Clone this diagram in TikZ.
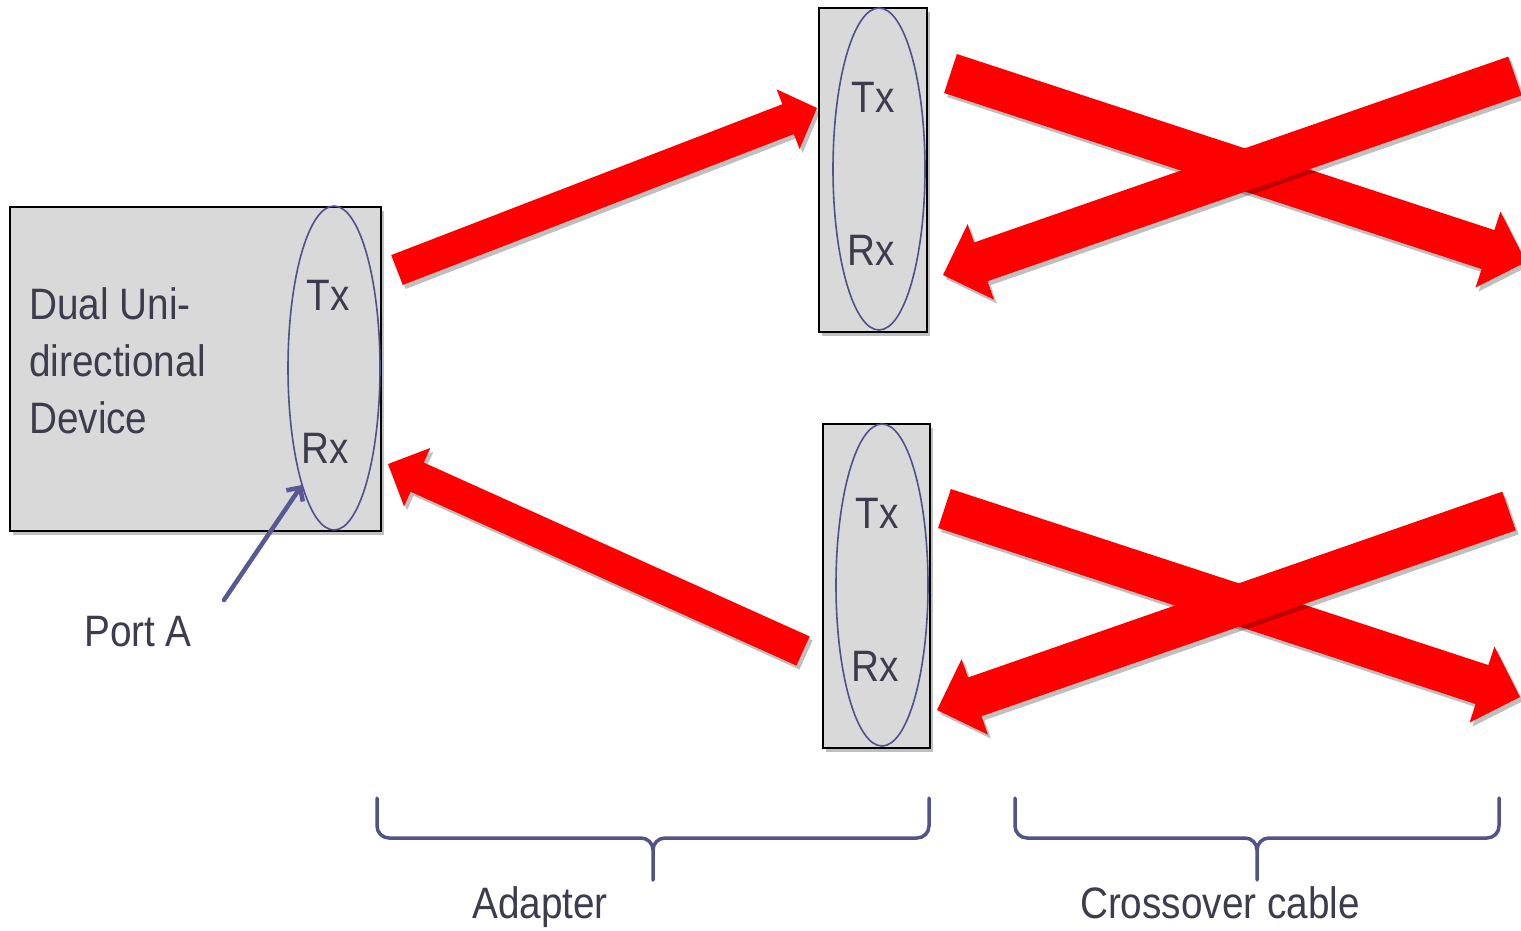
\documentclass[tikz,border=0pt]{standalone}
\usepackage{fontspec}
\setmainfont{Liberation Sans}[FakeStretch=0.88]
\usetikzlibrary{calc,shapes.geometric,shadows,arrows.meta}

\definecolor{inkc}{RGB}{60,60,78}
\definecolor{ringc}{RGB}{80,80,140}
\definecolor{bracec}{RGB}{82,83,138}
\definecolor{pointc}{RGB}{88,88,150}
\definecolor{boxgray}{RGB}{217,217,217}
\definecolor{arrowred}{RGB}{255,0,0}

% block arrow: tail, tip, half shaft width, half head width, head length
\newcommand\redarrow[5]{%
  \coordinate (hb) at ($(#2)!#5pt!(#1)$);
  \fill[redblock] ($(#1)!#3pt!90:(#2)$) -- ($(hb)!#3pt!90:(#2)$)
     -- ($(hb)!#4pt!90:(#2)$) -- (#2) -- ($(hb)!#4pt!-90:(#2)$)
     -- ($(hb)!#3pt!-90:(#2)$) -- ($(#1)!#3pt!-90:(#2)$) -- cycle;}

\begin{document}
\begin{tikzpicture}[x=1pt,y=-1pt,
  softshadow/.style={drop shadow={shadow xshift=3pt,shadow yshift=-4pt,opacity=.25,fill=black}},
  devbox/.style={draw=black,line width=2pt,fill=boxgray,inner sep=0pt,
    anchor=north west,softshadow},
  ring/.style={ellipse,draw=ringc,line width=1.6pt,inner sep=0pt},
  lbl/.style={font=\fontsize{44}{57}\selectfont,text=inkc,inner sep=0pt},
  redblock/.style={fill=arrowred,softshadow},
  brace/.style={draw=bracec,line width=3.5pt,line cap=round,line join=round},
  pointer/.style={draw=pointc,line width=4.5pt,line cap=round,
    -{Straight Barb[length=10pt,width=20pt]}}]

\useasboundingbox (0,0) rectangle (1521,930);
\clip (0,0) rectangle (1521,930);

% device and the two adapter boxes
\node[devbox,minimum width=371pt,minimum height=324pt] (dev) at (9,206) {};
\node[devbox,minimum width=108pt,minimum height=324pt] (adtop) at (818,7) {};
\node[devbox,minimum width=107pt,minimum height=324pt] (adbot) at (822,423) {};

% port rings
\node[ring,minimum width=92pt,minimum height=324pt] (pdev) at (334,368) {};
\node[ring,minimum width=92pt,minimum height=322pt] (ptop) at (879,169) {};
\node[ring,minimum width=92pt,minimum height=322pt] (pbot) at (882,585) {};

% port labels
\node[lbl,anchor=base] (devtx) at (328,310) {Tx};
\node[lbl,anchor=base] (devrx) at (325,463) {Rx};
\node[lbl,anchor=base] (toptx) at (873,112) {Tx};
\node[lbl,anchor=base] (toprx) at (871,265) {Rx};
\node[lbl,anchor=base] (bottx) at (877,528) {Tx};
\node[lbl,anchor=base] (botrx) at (875,681) {Rx};

\node[lbl,align=left,anchor=north west] (devname) at (29,287)
  {Dual Uni-\\directional\\Device};

% pointer to port A
\node[lbl,anchor=base west] (porta) at (84,646) {Port A};
\coordinate (pafrom) at (224,600);
\coordinate (pato) at (302,485);
\draw[pointer] (pafrom) -- (pato);

% adapter arrows
\coordinate (a1t) at (397,270);  \coordinate (a1h) at (817,108);
\coordinate (a2t) at (803,651);  \coordinate (a2h) at (388,464);
\redarrow{a1t}{a1h}{16}{32}{31}
\redarrow{a2t}{a2h}{16}{32}{32}

% crossover arrows, upper pair
\coordinate (c1t) at (950.5,73.5); \coordinate (c1h) at (1526,262);
\coordinate (c2t) at (1515,76);    \coordinate (c2h) at (943,275);
\redarrow{c1t}{c1h}{20.5}{40}{40}
\redarrow{c2t}{c2h}{20.5}{40}{40}

% crossover arrows, lower pair
\coordinate (c3t) at (944.5,508.5); \coordinate (c3h) at (1520,697);
\coordinate (c4t) at (1509,511);    \coordinate (c4h) at (937,710);
\redarrow{c3t}{c3h}{20.5}{40}{40}
\redarrow{c4t}{c4h}{20.5}{40}{40}

% braces
\draw[brace] (377,798) -- (377,826) to[out=-90,in=180] (389,838) -- (641,838)
  to[out=0,in=90] (653,850) -- (653,880);
\draw[brace] (653,850) to[out=90,in=180] (665,838) -- (917,838)
  to[out=0,in=-90] (929,826) -- (929,798);
\draw[brace] (1015,798) -- (1015,826) to[out=-90,in=180] (1027,838) -- (1245,838)
  to[out=0,in=90] (1257,850) -- (1257,880);
\draw[brace] (1257,850) to[out=90,in=180] (1269,838) -- (1487,838)
  to[out=0,in=-90] (1499,826) -- (1499,798);

\node[lbl,anchor=base] (adlbl) at (540,918) {Adapter};
\node[lbl,anchor=base] (xlbl) at (1220,918) {Crossover cable};
\end{tikzpicture}
\end{document}
